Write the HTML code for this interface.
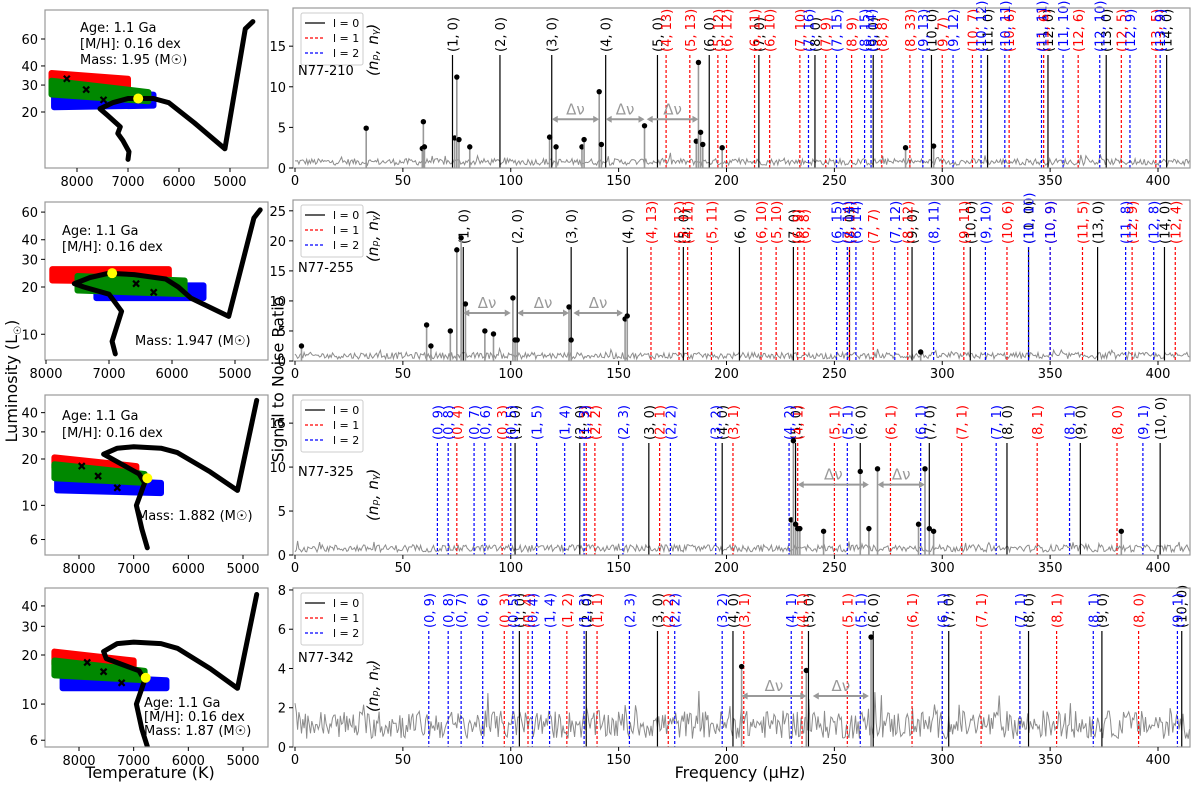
<!DOCTYPE html>
<html><head><meta charset="utf-8"><style>
body{margin:0;background:#fff;width:1200px;height:783px;overflow:hidden}
svg text{font-family:"DejaVu Sans","Liberation Sans",sans-serif}
</style></head><body>
<svg id="fig" width="1200" height="783" xmlns="http://www.w3.org/2000/svg"></svg>
<script>
// ---------- spectrum data ----------
const r1ModeF=[73,95,119,144,168,192,215,241,268,295,321,349,376,404,172,183,196,200,213,220,234,246,258,272,285,300,314,331,347,363,383,399,238,251,264,267,291,305,318,329,346,356,373,387,401];
const r1ModeL=[0,0,0,0,0,0,0,0,0,0,0,0,0,0,1,1,1,1,1,1,1,1,1,1,1,1,1,1,1,1,1,1,2,2,2,2,2,2,2,2,2,2,2,2,2];
const r1ModeLab=["(1, 0)","(2, 0)","(3, 0)","(4, 0)","(5, 0)","(6, 0)","(7, 0)","(8, 0)","(9, 0)","(10, 0)","(11, 0)","(12, 0)","(13, 0)","(14, 0)","(4, 13)","(5, 13)","(5, 12)","(6, 12)","(6, 11)","(6, 10)","(7, 10)","(7, 9)","(8, 9)","(8, 8)","(8, 33)","(9, 7)","(10, 7)","(10, 6)","(11, 6)","(12, 6)","(12, 5)","(13, 5)","(7, 16)","(7, 15)","(8, 15)","(8, 14)","(9, 13)","(9, 12)","(10, 12)","(10, 11)","(11, 11)","(11, 10)","(12, 10)","(12, 9)","(13, 9)"];
const r1PeakF=[33,59,59.5,60,74,75,76,81,118,121,133,134,141,142,162,186,187,188,189,198,283,296];
const r1PeakS=[4.9,2.4,5.7,2.6,3.7,11.2,3.5,2.6,3.8,2.6,2.6,3.5,9.4,2.9,5.2,3.3,13,4.4,2.9,2.5,2.5,2.7];
const r1DnFrom=[119,144,163], r1DnTo=[141,162,187], r1DnY=[6,6,6];

const r2ModeF=[78,103,128,154,180,206,231,257,286,313,340,372,403,165,178,182,193,216,223,233,236,257,268,284,310,330,350,365,388,408,251,260,256,278,296,320,340,350,385,398];
const r2ModeL=[0,0,0,0,0,0,0,0,0,0,0,0,0,1,1,1,1,1,1,1,1,1,1,1,1,1,1,1,1,1,2,2,2,2,2,2,2,2,2,2];
const r2ModeLab=["(1, 0)","(2, 0)","(3, 0)","(4, 0)","(5, 0)","(6, 0)","(7, 0)","(8, 0)","(9, 0)","(10, 0)","(11, 0)","(13, 0)","(14, 0)","(4, 13)","(5, 12)","(4, 11)","(5, 11)","(6, 10)","(5, 10)","(6, 9)","(6, 8)","(8, 13)","(7, 7)","(8, 12)","(9, 11)","(10, 6)","(10, 9)","(11, 5)","(12, 9)","(12, 4)","(6, 15)","(6, 14)","(7, 14)","(7, 12)","(8, 11)","(9, 10)","(10, 10)","(10, 9)","(11, 8)","(12, 8)"];
const r2PeakF=[3,61,63,72,75,77,79,88,92,101,102,103,127,128,153,154,290];
const r2PeakS=[2.5,6,2.5,5,18.5,20.5,9.5,5,4.5,10.5,3.5,3.5,9,3.5,7,7.5,1.5];
const r2DnFrom=[78,103,129], r2DnTo=[100,127,152], r2DnY=[8,8,8];

const r3ModeF=[102,132,164,198,232,262,294,330,364,401,75,96,135,139,169,203,233,250,276,309,344,381,66,71,83,88,100,112,125,134,152,174,195,229,256,290,325,359,393];
const r3ModeL=[0,0,0,0,0,0,0,0,0,0,1,1,1,1,1,1,1,1,1,1,1,1,2,2,2,2,2,2,2,2,2,2,2,2,2,2,2,2,2];
const r3ModeLab=["(1, 0)","(2, 0)","(3, 0)","(4, 0)","(5, 0)","(6, 0)","(7, 0)","(8, 0)","(9, 0)","(10, 0)","(0, 4)","(0, 3)","(1, 2)","(2, 2)","(2, 1)","(3, 1)","(4, 1)","(5, 1)","(6, 1)","(7, 1)","(8, 1)","(8, 0)","(0, 9)","(0, 8)","(0, 7)","(0, 6)","(0, 5)","(1, 5)","(1, 4)","(1, 3)","(2, 3)","(2, 2)","(3, 2)","(4, 2)","(5, 1)","(6, 1)","(7, 1)","(8, 1)","(9, 1)"];
const r3PeakF=[230,231,232,233,234,245,262,266,270,289,292,294,296,383];
const r3PeakS=[4,13,3.5,3,3,2.7,9.5,3,9.8,3.5,9.8,3,2.7,2.7];
const r3DnFrom=[233,270], r3DnTo=[266,292], r3DnY=[8,8];

const r4ModeF=[104,135,168,203,238,268,303,340,374,411,97,108,126,140,173,208,235,256,286,318,353,391,62,71,77,87,101,110,118,134,155,176,198,230,262,300,336,370,409];
const r4ModeL=[0,0,0,0,0,0,0,0,0,0,1,1,1,1,1,1,1,1,1,1,1,1,2,2,2,2,2,2,2,2,2,2,2,2,2,2,2,2,2];
const r4ModeLab=["(1, 0)","(2, 0)","(3, 0)","(4, 0)","(5, 0)","(6, 0)","(7, 0)","(8, 0)","(9, 0)","(10, 0)","(0, 3)","(0, 4)","(1, 2)","(1, 1)","(2, 2)","(3, 1)","(4, 1)","(5, 1)","(6, 1)","(7, 1)","(8, 1)","(8, 0)","(0, 9)","(0, 8)","(0, 7)","(0, 6)","(0, 5)","(0, 4)","(1, 4)","(1, 3)","(2, 3)","(2, 2)","(3, 2)","(4, 1)","(5, 1)","(6, 1)","(7, 1)","(8, 1)","(9, 1)"];
const r4PeakF=[207,237,267];
const r4PeakS=[4.1,3.9,5.6];
const r4DnFrom=[207,240], r4DnTo=[237,266], r4DnY=[2.6,2.6];

const r1Ticks=[0,5,10,15], r2Ticks=[0,5,10,15,20,25], r3Ticks=[0,5,10,15], r4Ticks=[0,2,4,6,8];
const freqTicks=[0,50,100,150,200,250,300,350,400];
const starNames=["N77-210","N77-255","N77-325","N77-342"];

// ---------- HR data ----------
const hr1TrackT=[7000,6980,7100,7200,7150,7400,7550,7300,7000,6500,6200,5700,5100,4700,4550];
const hr1TrackL=[9.8,11,13,14.5,16,19,21,23,24.5,24.5,23,17,11.5,70,78];
const hr2TrackT=[6900,6950,6800,7000,7400,7550,7300,7000,6600,6100,5900,5700,5100,4700,4600];
const hr2TrackL=[7.5,9,14,18,20,21,23,24.5,24,22.5,20,17,13,55,62];
const hr3TrackT=[6750,6850,6950,6850,6800,6900,7500,7550,7300,7000,6500,6200,5600,5100,4750];
const hr3TrackL=[5.3,7,10,12.5,14,16,21,21.5,23.5,24,23.5,22,16.5,12.5,48];
const hr4TrackT=[6750,6850,6950,6850,6800,6900,7500,7550,7300,7000,6500,6200,5600,5100,4750];
const hr4TrackL=[5.5,7,10,12.5,14,16,19,21,23.5,24,23.5,22,16.5,12.5,47];
const hrYellowT=[6800,6950,6750,6780], hrYellowL=[24.5,24.5,15,14.5];
const hrTempTicks=[8000,7000,6000,5000];

const S="http://www.w3.org/2000/svg";
const svg=document.getElementById('fig');
function el(tag,attrs,parent,txt){const e=document.createElementNS(S,tag);for(const k in attrs)e.setAttribute(k,attrs[k]);if(txt!==undefined)e.textContent=txt;(parent||svg).appendChild(e);return e;}

// seeded texture generator for background noise
let seed=12345;function rnd(){seed=(seed*1103515245+12345)%2147483648;return seed/2147483648;}

const rows=[
 {top:8,bot:168,ymax:19.7,ticks:r1Ticks,mf:r1ModeF,ml:r1ModeL,lab:r1ModeLab,pf:r1PeakF,ps:r1PeakS,df:r1DnFrom,dt:r1DnTo,dy:r1DnY,labBot:52,np:[378,76],name:[298,75],noise:0.45,sc:1,off:0.2},
 {top:200,bot:361,ymax:26.8,ticks:r2Ticks,mf:r2ModeF,ml:r2ModeL,lab:r2ModeLab,pf:r2PeakF,ps:r2PeakS,df:r2DnFrom,dt:r2DnTo,dy:r2DnY,labBot:244,np:[378,262],name:[298,272],noise:0.6,sc:1,off:0.2},
 {top:395,bot:555,ymax:18.2,ticks:r3Ticks,mf:r3ModeF,ml:r3ModeL,lab:r3ModeLab,pf:r3PeakF,ps:r3PeakS,df:r3DnFrom,dt:r3DnTo,dy:r3DnY,labBot:440,np:[378,521],name:[298,476],noise:0.45,sc:1,off:0.2},
 {top:588,bot:747,ymax:8.1,ticks:r4Ticks,mf:r4ModeF,ml:r4ModeL,lab:r4ModeLab,pf:r4PeakF,ps:r4PeakS,df:r4DnFrom,dt:r4DnTo,dy:r4DnY,labBot:628,np:[378,712],name:[298,662],noise:0.55,sc:1.45,off:0.2}
];
const X0=293,X1=1190;
function fx(f){return 295+f*2.1575;}
const cols=['#000','#f00','#00f'];

rows.forEach((r,i)=>{
 const g=el('g',{});
 
 
 const fy=v=>r.bot-(v/r.ymax)*(r.bot-r.top);
 let d='';
 for(let f=0;f<=415;f+=0.6){const v=0.15+rnd()*r.noise*1.8+(rnd()<0.05?rnd()*0.8:0);d+=(f?'L':'M')+fx(f).toFixed(1)+' '+fy(v*r.sc+r.off).toFixed(1);}
 const nz=el('path',{d:d,fill:'none',stroke:'#8c8c8c','stroke-width':1},g);
 
 
 r.mf.forEach((f,k)=>{
  const l=r.ml[k],x=fx(f);
  const ln=el('line',{x1:x,x2:x,y1:r.labBot+3,y2:r.bot,stroke:cols[l],'stroke-width':1.2,'stroke-dasharray':l?'3,2':'none'},g);
  
  
  const t=el('text',{x:0,y:0,transform:`translate(${x+5},${r.labBot}) rotate(-90)`,'font-size':13,fill:cols[l]},g,r.lab[k]);
  
  
 });
 r.pf.forEach((f,k)=>{
  const x=fx(f),y=fy(r.ps[k]);
  const pl=el('line',{x1:x,x2:x,y1:y,y2:r.bot,stroke:'#999','stroke-width':1.6},g);
  
  
  const c=el('circle',{cx:x,cy:y,r:2.7,fill:'#000'},g);
  
  
 });
 r.df.forEach((a,k)=>{
  const x1=fx(a),x2=fx(r.dt[k]),y=fy(r.dy[k]);
  const ar=el('g',{},g);
  
  
  el('line',{x1:x1+4,x2:x2-4,y1:y,y2:y,stroke:'#999','stroke-width':2},ar);
  el('path',{d:`M${x1} ${y}l6 -3.5v7z M${x2} ${y}l-6 -3.5v7z`,fill:'#999'},ar);
  el('text',{x:(x1+x2)/2,y:y-5,'text-anchor':'middle','font-size':15,fill:'#999'},ar,'Δν');
 });
 const fr=el('rect',{x:X0,y:r.top,width:X1-X0,height:r.bot-r.top,fill:'none',stroke:'#999','stroke-width':1.2},g);
 
 
 r.ticks.forEach(v=>{const y=fy(v);el('line',{x1:X0-4,x2:X0,y1:y,y2:y,stroke:'#000'},g);
  const t=el('text',{x:X0-7,y:y+5,'text-anchor':'end','font-size':13},g,v);
  
  });
 freqTicks.forEach(v=>{const x=fx(v);el('line',{x1:x,x2:x,y1:r.bot,y2:r.bot+4,stroke:'#000'},g);
  const t=el('text',{x:x,y:r.bot+17,'text-anchor':'middle','font-size':13},g,v);
  
  });
 const lg=el('g',{},g);
 
 
 const ly=r.top+5;
 el('rect',{x:301,y:ly,width:62,height:52,fill:'#fff',stroke:'#ccc',rx:2},lg);
 ['l = 0','l = 1','l = 2'].forEach((s,k)=>{const yy=ly+10+k*15;
  el('line',{x1:305,x2:325,y1:yy,y2:yy,stroke:cols[k],'stroke-width':1.2,'stroke-dasharray':k?'3,2':'none'},lg);
  el('text',{x:333,y:yy+4,'font-size':11},lg,s);});
 const nm=el('text',{x:r.name[0],y:r.name[1],'font-size':13},g,starNames[i]);
 
 
 const np=el('text',{x:0,y:0,transform:`translate(${r.np[0]},${r.np[1]}) rotate(-90)`,'font-size':15,'font-style':'italic'},g,'(n\u209a, n\u1d67)');
 
 
});

// ---------- HR panels ----------
const hrs=[
 {top:10,bot:168,t8:77,t5:230,l20:112,pd:153,tT:hr1TrackT,tL:hr1TrackL,
  clouds:[[8500,7000,36,31,33,29],[8450,6500,27,21.5,26,22],[8500,6600,32,26,27,23.5]],marks:[[8200,33],[7820,28],[7480,24]],
  text:[[80,32,'Age: 1.1 Ga'],[80,48,'[M/H]: 0.16 dex'],[80,64,'Mass: 1.95 (M☉)']],yt:[[20],[30],[40],[60]]},
 {top:202,bot:360,t8:46,t5:235,l20:287,pd:157,tT:hr2TrackT,tL:hr2TrackL,
  clouds:[[7900,6050,26,22,26,21.5],[7200,5500,20.5,17,20.5,17],[7500,5800,23.5,19,22,18]],marks:[[6570,21],[6290,18.5]],
  text:[[62,235,'Age: 1.1 Ga'],[62,251,'[M/H]: 0.16 dex'],[135,345,'Mass: 1.947 (M☉)']],yt:[[10],[20],[30],[40],[60]]},
 {top:395,bot:555,t8:79,t5:243,l20:459,pd:154,tT:hr3TrackT,tL:hr3TrackL,
  clouds:[[8450,6950,20.5,17.5,18,16],[8400,6500,15,12.5,14,12],[8450,6800,18.5,15,16,14]],marks:[[7950,18],[7650,15.5],[7300,13]],
  text:[[62,420,'Age: 1.1 Ga'],[62,437,'[M/H]: 0.16 dex'],[137,520,'Mass: 1.882 (M☉)']],yt:[[6],[10],[20],[30],[40]]},
 {top:588,bot:747,t8:79,t5:243,l20:655,pd:163,tT:hr4TrackT,tL:hr4TrackL,
  clouds:[[8450,7000,21,17.5,18.5,16],[8300,6400,15,12.5,14,12.5],[8450,6800,18.5,15,16,14]],marks:[[7850,18],[7550,15.8],[7220,13.5]],
  text:[[144,707,'Age: 1.1 Ga'],[144,721,'[M/H]: 0.16 dex'],[144,735,'Mass: 1.87 (M☉)']],yt:[[6],[10],[20],[30],[40]]}
];
const ccol=['#f00','#00f','#080'];
hrs.forEach((h,i)=>{
 const g=el('g',{});
 
 
 const tx=T=>h.t8+(8000-T)/3000*(h.t5-h.t8);
 const ly=L=>h.l20-Math.log10(L/20)*h.pd;
 const cp=el('clipPath',{id:'c'+i},g);el('rect',{x:45,y:h.top,width:223,height:h.bot-h.top},cp);
 const cg=el('g',{'clip-path':`url(#c${i})`},g);
 h.clouds.forEach((c,k)=>{
  const [Ta,Tb,La1,La2,Lb1,Lb2]=c;
  const p=el('polygon',{points:`${tx(Ta)},${ly(La1)} ${tx(Tb)},${ly(Lb1)} ${tx(Tb)},${ly(Lb2)} ${tx(Ta)},${ly(La2)}`,fill:ccol[k],stroke:ccol[k],'stroke-width':6,'stroke-linejoin':'round'},cg);
  
  
 });
 h.marks.forEach(m=>{const x=tx(m[0]),y=ly(m[1]);
  const mk=el('path',{d:`M${x-3} ${y-3}L${x+3} ${y+3}M${x+3} ${y-3}L${x-3} ${y+3}`,stroke:'#000','stroke-width':2.2},cg);
  
  });
 const pts=h.tT.map((T,k)=>tx(T).toFixed(1)+','+ly(h.tL[k]).toFixed(1)).join(' ');
 const tr=el('polyline',{points:pts,fill:'none',stroke:'#000','stroke-width':5,'stroke-linejoin':'round','stroke-linecap':'round'},cg);
 
 
 const yd=el('circle',{cx:tx(hrYellowT[i]),cy:ly(hrYellowL[i]),r:5,fill:'#ff0'},cg);
 
 
 const fr=el('rect',{x:45,y:h.top,width:223,height:h.bot-h.top,fill:'none',stroke:'#999','stroke-width':1.2},g);
 
 
 h.text.forEach(t=>{const e=el('text',{x:t[0],y:t[1],'font-size':13},g,t[2]);
  
  });
 h.yt.forEach(v=>{const y=ly(v[0]);el('line',{x1:41,x2:45,y1:y,y2:y,stroke:'#000'},g);
  const e=el('text',{x:38,y:y+5,'text-anchor':'end','font-size':13},g,v[0]);
  
  });
 hrTempTicks.forEach(T=>{const x=tx(T);el('line',{x1:x,x2:x,y1:h.bot,y2:h.bot+4,stroke:'#000'},g);
  const e=el('text',{x:x,y:h.bot+18,'text-anchor':'middle','font-size':13},g,T);
  
  });
});
</script>
<div style="position:absolute;left:0;top:0;width:1200px;height:783px;pointer-events:none">
<div style="position:absolute;left:-62px;top:370px;width:150px;text-align:center;transform:rotate(-90deg);font:16px 'DejaVu Sans',sans-serif">Luminosity (L<sub style="font-size:10px">☉</sub>)</div>
<div style="position:absolute;left:70px;top:763px;width:160px;text-align:center;font:16px 'DejaVu Sans',sans-serif">Temperature (K)</div>
<div style="position:absolute;left:178px;top:370px;width:200px;text-align:center;transform:rotate(-90deg);font:16px 'DejaVu Sans',sans-serif">Signal to Noise Ratio</div>
<div style="position:absolute;left:640px;top:763px;width:200px;text-align:center;font:16px 'DejaVu Sans',sans-serif">Frequency (µHz)</div>
</div>
</body></html>
